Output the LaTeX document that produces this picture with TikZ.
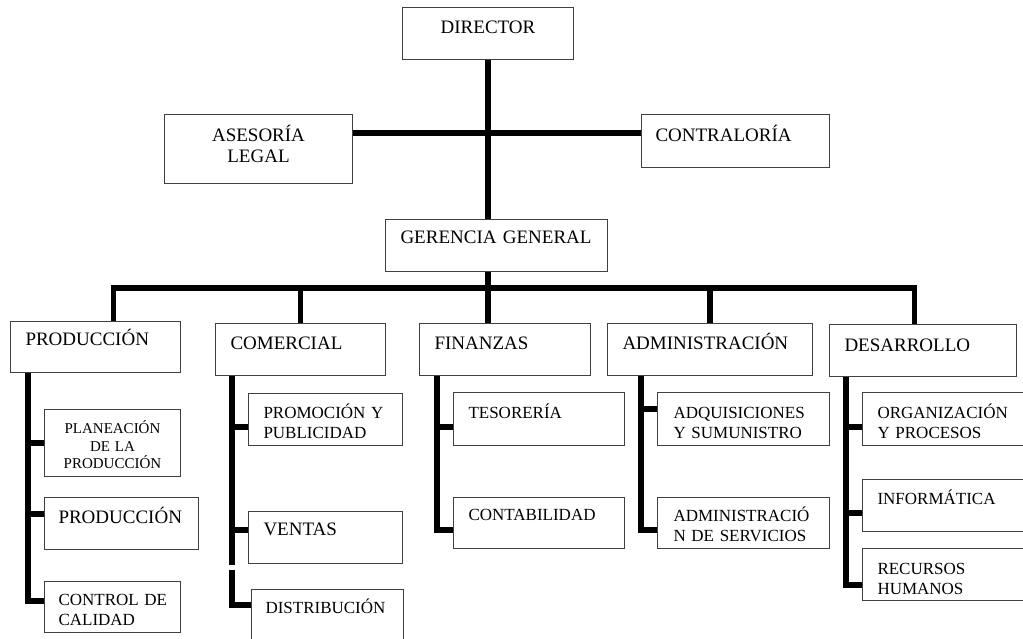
\documentclass[tikz,border=0pt]{standalone}
\usepackage{fontspec}
\setmainfont{Liberation Serif}
\usepackage{tikz}
\hyphenpenalty=10000
\exhyphenpenalty=10000

\begin{document}
\begin{tikzpicture}[x=1pt,y=-1pt,
		caja/.style={draw=black!75,line width=1pt,anchor=north west,inner xsep=15pt,inner ysep=0pt,align=left},
		grande/.style={font=\fontsize{19}{21}\selectfont},
		mediana/.style={font=\fontsize{17}{20}\selectfont},
		chica/.style={font=\fontsize{15}{17.5}\selectfont},
		linea/.style={line width=5.5pt}]
				\useasboundingbox (0,0) rectangle (1023,639);
				\node[caja,grande,align=center,text width=141pt,text height=26pt,text depth=26pt] (dir) at (402,7) {DIRECTOR};
				\node[caja,grande,align=center,text width=158pt,text height=27pt,text depth=42pt] (ase) at (164,114) {ASESOR\'IA\\LEGAL};
				\node[caja,grande,inner xsep=14pt,text width=160pt,text height=27pt,text depth=26pt] (con) at (641,114) {CONTRALOR\'IA};
				\node[caja,grande,text width=192pt,text height=24pt,text depth=28pt] (ger) at (385,219) {GERENCIA~GENERAL};
				\node[caja,grande,text width=140pt,text height=24pt,text depth=27pt] (prod) at (10,321) {PRODUCCI\'ON};
				\node[caja,grande,text width=140pt,text height=26pt,text depth=26pt] (com) at (215,323) {COMERCIAL};
				\node[caja,grande,text width=141pt,text height=26pt,text depth=26pt] (fin) at (419,323) {FINANZAS};
				\node[caja,grande,text width=175pt,text height=26pt,text depth=26pt] (adm) at (607,323) {ADMINISTRACI\'ON};
				\node[caja,grande,text width=157pt,text height=27pt,text depth=25pt] (des) at (829,324) {DESARROLLO};
				\node[caja,chica,align=center,inner xsep=5pt,text width=126pt,text height=24pt,text depth=43pt] (plan) at (44,409) {PLANEACI\'ON\\DE~LA\\PRODUCCI\'ON};
				\node[caja,grande,inner xsep=14pt,text width=126pt,text height=26pt,text depth=26pt] (psub) at (44,497) {PRODUCCI\'ON};
				\node[caja,mediana,inner xsep=14pt,text width=108pt,text height=24pt,text depth=27pt] (ctrl) at (44,581) {CONTROL~DE\\CALIDAD};
				\node[caja,mediana,text width=124pt,text height=25pt,text depth=27pt] (prom) at (248,393) {PROMOCI\'ON~Y\\PUBLICIDAD};
				\node[caja,grande,text width=124pt,text height=24pt,text depth=28pt] (ven) at (248,511) {VENTAS};
				\node[caja,mediana,inner xsep=14pt,text width=124pt,text height=24pt,text depth=36pt] (dist) at (251,589) {DISTRIBUCI\'ON};
				\node[caja,mediana,text width=141pt,text height=26pt,text depth=27pt] (tes) at (453,392) {TESORER\'IA};
				\node[caja,mediana,text width=141pt,text height=23pt,text depth=28pt] (cont) at (453,497) {CONTABILIDAD};
				\node[caja,mediana,inner xsep=16pt,text width=140pt,text height=26pt,text depth=27pt] (adq) at (657,392) {ADQUISICIONES\\Y~SUMUNISTRO};
				\node[caja,mediana,inner xsep=16pt,text width=140pt,text height=24pt,text depth=27pt] (serv) at (657,497) {ADMINISTRACI\'O\\N~DE~SERVICIOS};
				\node[caja,mediana,text width=131pt,text height=26pt,text depth=27pt] (org) at (862,392) {ORGANIZACI\'ON\\Y~PROCESOS};
				\node[caja,mediana,text width=131pt,text height=25pt,text depth=27pt] (inf) at (862,479) {INFORM\'ATICA};
				\node[caja,mediana,text width=131pt,text height=26pt,text depth=26pt] (rec) at (862,548) {RECURSOS\\HUMANOS};
				\draw[linea] (dir.south) -- (dir.south |- ger.north);
				\draw[linea] ([yshift=-19pt]ase.north east) -- ([yshift=-19pt]con.north west);
				\coordinate (bus) at (488,288);
				\draw[linea] (ger.south -| bus) -- (bus);
				\draw[linea] ([xshift=18pt]prod.north) |- (bus) -| ([xshift=-8.5pt]des.north);
				\draw[linea] (com.north) -- (com.north |- bus);
				\draw[linea] (bus) -- (bus |- fin.north);
				\draw[linea] (adm.north) -- (adm.north |- bus);
				\coordinate (ejeP) at ([xshift=18pt]prod.south west);
				\draw[linea] (ejeP) |- (plan.west);
				\draw[linea] (ejeP) |- ([yshift=-17pt]psub.north west);
				\draw[linea] (ejeP) |- ([yshift=-20pt]ctrl.north west);
				\coordinate (ejeC) at ([xshift=17pt]com.south west);
				\coordinate (corteC) at (232,567.5);
				\draw[linea] (ejeC) |- ([yshift=-34pt]prom.north west);
				\draw[linea] (ejeC) |- ([yshift=-19pt]ven.north west);
				\draw[linea] (ejeC) -- ([yshift=2.5pt]corteC);
				\draw[linea] ([yshift=-2.5pt]corteC) |- ([yshift=-16pt]dist.north west);
				\coordinate (ejeF) at ([xshift=18pt]fin.south west);
				\draw[linea] (ejeF) |- ([yshift=-35pt]tes.north west);
				\draw[linea] (ejeF) |- ([yshift=-33pt]cont.north west);
				\coordinate (ejeA) at ([xshift=34pt]adm.south west);
				\draw[linea] (ejeA) |- ([yshift=-17pt]adq.north west);
				\draw[linea] (ejeA) |- ([yshift=-33pt]serv.north west);
				\coordinate (ejeD) at ([xshift=17pt]des.south west);
				\draw[linea] (ejeD) |- ([yshift=-35pt]org.north west);
				\draw[linea] (ejeD) |- ([yshift=-34pt]inf.north west);
				\draw[linea] (ejeD) |- ([yshift=-37pt]rec.north west);
\end{tikzpicture}
\end{document}
